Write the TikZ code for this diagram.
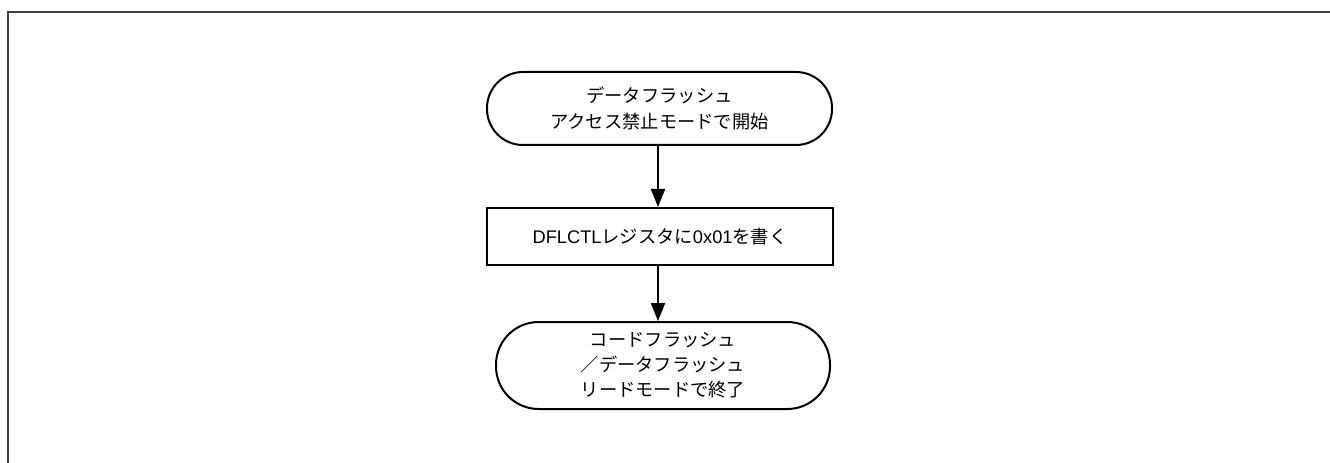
\documentclass[tikz,border=0pt]{standalone}
\usepackage{fontspec}
\setmainfont{Liberation Sans}
\newfontfamily\cjk{Noto Sans CJK JP}
\usetikzlibrary{arrows.meta}
\begin{document}
\begin{tikzpicture}[x=0.75pt,y=-0.75pt,
  term/.style={draw=black,line width=1.5pt,rounded corners=#1,align=center,inner sep=0pt,font=\cjk\fontsize{13.7}{20}\selectfont},
  procbox/.style={draw=black,line width=1.5pt,align=center,inner sep=0pt,font=\fontsize{13.7}{20}\selectfont},
  flow/.style={line width=1.5pt,-{Triangle[length=13.5pt,width=10.5pt]}},
  frameline/.style={draw=black!75,line width=1.5pt}]
\useasboundingbox (0,0) rectangle (1330,463);
\draw[frameline] (1330,12) -- (8,12) -- (8,463);
\node[term=27pt,minimum width=258.75pt,minimum height=54.75pt] (start) at (659.5,108.5)
  {データフラッシュ\\アクセス禁止モードで開始};
\node[procbox,minimum width=259.5pt,minimum height=42.75pt] (proc) at (660,236.5)
  {DFLCTL{\cjk レジスタに}0x01{\cjk を書く}};
\node[term=32pt,minimum width=250.5pt,minimum height=65.25pt,font=\cjk\fontsize{13.7}{18.8}\selectfont] (end) at (663,365.5)
  {コードフラッシュ\\／データフラッシュ\\リードモードで終了};
\coordinate (a1) at (658,145);
\coordinate (a2) at (658,265);
\draw[flow] (a1) -- (a1 |- proc.north);
\draw[flow] (a2) -- (a2 |- end.north);
\end{tikzpicture}
\end{document}
